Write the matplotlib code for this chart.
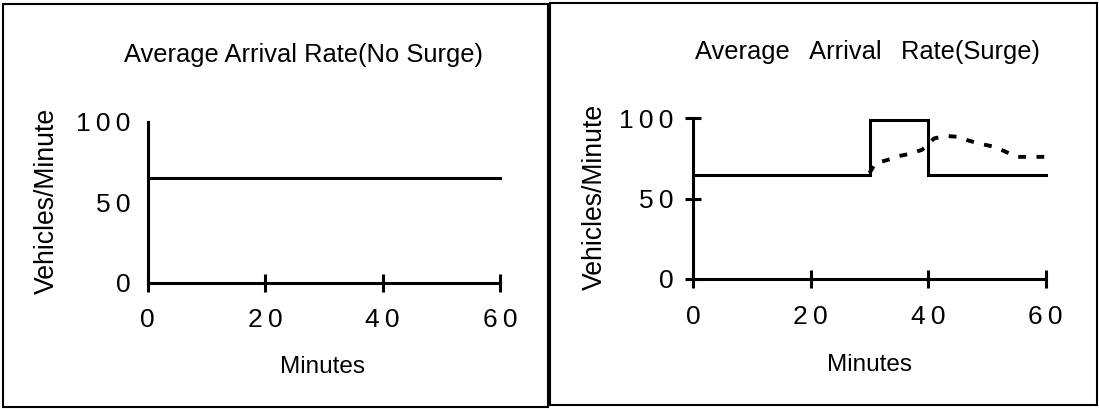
import matplotlib
matplotlib.use("Agg")
import matplotlib.pyplot as plt
from matplotlib.patches import Rectangle

# ---- data -------------------------------------------------------------
TS = "\u2009"  # thin space between digits
minute_ticks = [0, 20, 40, 60]
minute_tick_labels = ["0", f"2{TS}0", f"4{TS}0", f"6{TS}0"]
rate_ticks = [0, 50, 100]
rate_tick_labels = ["0", f"5{TS}0", f"1{TS}0{TS}0"]

# constant arrival rate, no surge
no_surge_minutes = [0, 60]
no_surge_rate = [65, 65]

# step surge between minute 30 and 40
surge_minutes = [0, 30, 30, 40, 40, 60]
surge_rate = [65, 65, 99, 99, 65, 65]

# smoothed (lagged) response to the surge
response_minutes = [30, 31, 33, 35, 37, 39, 41, 43, 45, 47, 49, 51, 53, 55, 60]
response_rate = [66, 72, 74, 76.5, 78, 80.5, 87.5, 89, 88.5, 86, 84, 82.5, 79.5, 76, 76]

# ---- figure -----------------------------------------------------------
W, H = 1099, 409
DPI = 100
plt.rcParams["font.family"] = ["Liberation Sans", "DejaVu Sans"]
fig = plt.figure(figsize=(W / DPI, H / DPI), dpi=DPI, facecolor="white")

LW = 2.2
TICK_FS = 19
TITLE_FS = 18.4
XLABEL_FS = 17.5
YLABEL_FS = 19.2


def px_axes(x0, x1, y_top, y_bottom):
    return fig.add_axes([x0 / W, 1 - y_bottom / H, (x1 - x0) / W, (y_bottom - y_top) / H])


def style_axes(ax, ytick_len, ytick_pad):
    ax.set_xlim(0, 60)
    ax.set_ylim(0, 100)
    for side in ("top", "right"):
        ax.spines[side].set_visible(False)
    for side in ("left", "bottom"):
        ax.spines[side].set_linewidth(LW)
    ax.set_xticks(minute_ticks, minute_tick_labels, fontsize=TICK_FS)
    ax.set_yticks(rate_ticks, rate_tick_labels, fontsize=TICK_FS)
    ax.tick_params(axis="x", direction="inout", length=13, width=LW, pad=12.0)
    ax.tick_params(axis="y", direction="inout", length=ytick_len, width=LW, pad=ytick_pad)
    ax.patch.set_visible(False)


def add_box(x0, y0, x1, y1):
    fig.add_artist(Rectangle((x0 / W, 1 - y1 / H), (x1 - x0) / W, (y1 - y0) / H,
                             transform=fig.transFigure, fill=False,
                             edgecolor="black", linewidth=1.5))


add_box(3, 4, 548, 407)
add_box(550, 3, 1097, 405)

# ---- left: no surge ---------------------------------------------------
ax1 = px_axes(147.7, 500.0, 121.7, 282.7)
style_axes(ax1, 0, 12.3)
ax1.plot(no_surge_minutes, no_surge_rate, color="black", lw=LW, clip_on=False)
ax1.set_title("Average Arrival Rate(No Surge)", fontsize=TITLE_FS, x=0.441, y=1.414,
              va="center", pad=0)
ax1.set_xlabel("Minutes", fontsize=XLABEL_FS, va="center")
ax1.xaxis.set_label_coords(0.495, -0.524)
ax1.set_ylabel("Vehicles/Minute", fontsize=YLABEL_FS, va="center")
ax1.yaxis.set_label_coords(-0.286, 0.507)

# ---- right: surge -----------------------------------------------------
ax2 = px_axes(693.3, 1045.7, 118.3, 279.0)
style_axes(ax2, 11, 8.7)
ax2.plot(surge_minutes, surge_rate, color="black", lw=LW, clip_on=False,
         solid_joinstyle="miter")
ax2.plot(response_minutes, response_rate, color="black", lw=2.8, clip_on=False,
         dashes=(2.0, 2.7), dash_capstyle="butt")
ax2.set_title(f"Average  {TS}Arrival  {TS}Rate(Surge)", fontsize=TITLE_FS, x=0.494, y=1.413,
              va="center", pad=0)
ax2.set_xlabel("Minutes", fontsize=XLABEL_FS, va="center")
ax2.xaxis.set_label_coords(0.501, -0.535)
ax2.set_ylabel("Vehicles/Minute", fontsize=YLABEL_FS, va="center")
ax2.yaxis.set_label_coords(-0.280, 0.510)

fig.savefig("out.png", dpi=DPI, facecolor="white")
